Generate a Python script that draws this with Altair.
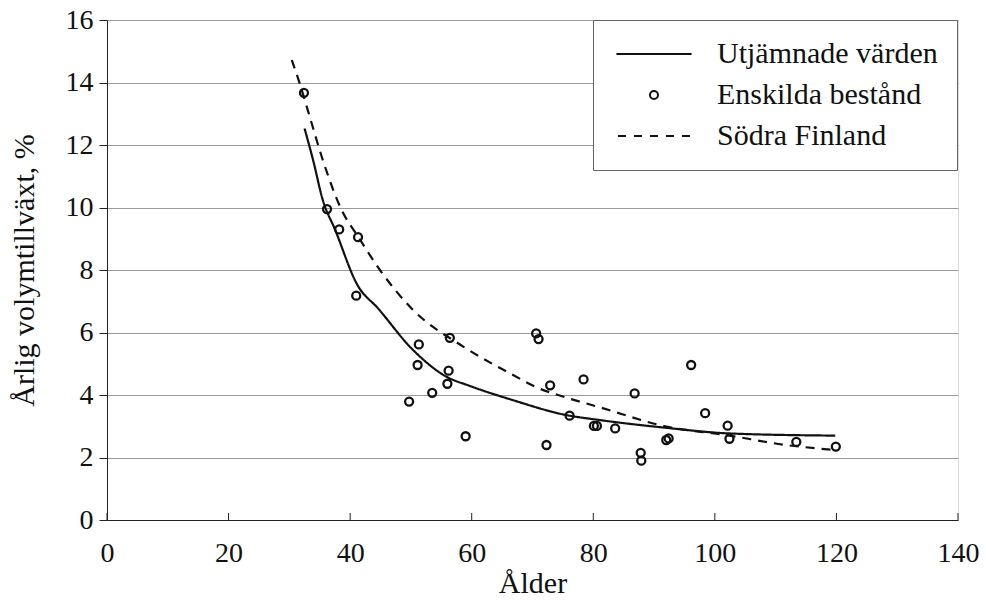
import altair as alt
import pandas as pd

# --- data ---
series = ["Utjämnade värden", "Enskilda bestånd", "Södra Finland"]

ages = [32.4, 36.2, 38.2, 41.3, 41.0, 49.7, 51.1, 51.3, 53.5, 56.0,
        56.2, 56.4, 59.0, 70.6, 71.0, 72.3, 72.9, 76.1, 78.4, 80.1,
        80.6, 83.6, 86.8, 87.8, 87.9, 92.0, 92.4, 96.1, 98.4, 102.1,
        102.4, 113.4, 119.9]
growth = [13.67, 9.95, 9.30, 9.05, 7.18, 3.79, 4.96, 5.62, 4.07, 4.36,
          4.78, 5.83, 2.68, 5.97, 5.79, 2.40, 4.31, 3.34, 4.50, 3.01,
          3.01, 2.93, 4.05, 2.15, 1.90, 2.56, 2.61, 4.96, 3.42, 3.02,
          2.60, 2.50, 2.35]

smooth_age = [32.5, 33.9, 35.5, 37.5, 41.2, 44.6, 50.1, 55.8, 59.7, 66.7,
              75.5, 81.0, 92.0, 102.4, 119.8]
smooth_val = [12.53, 11.52, 10.24, 9.30, 7.52, 6.77, 5.49, 4.59, 4.29, 3.84,
              3.36, 3.20, 2.95, 2.77, 2.70]

finland_age = [30.4, 31.7, 33.1, 35.5, 38.6, 41.3, 44.9, 50.1, 58.6, 66.8,
               70.6, 75.0, 81.0, 92.0, 101.8, 111.7, 119.8]
finland_val = [14.72, 13.97, 13.07, 11.52, 9.92, 9.07, 8.00, 6.77, 5.55, 4.64,
               4.25, 3.95, 3.61, 2.99, 2.72, 2.40, 2.24]

x_ticks = [0, 20, 40, 60, 80, 100, 120, 140]
y_ticks = [0, 2, 4, 6, 8, 10, 12, 14, 16]

# --- tables ---
pts = pd.DataFrame({"age": ages, "val": growth, "serie": series[1]})
lines = pd.concat([
    pd.DataFrame({"age": smooth_age, "val": smooth_val, "serie": series[0]}),
    pd.DataFrame({"age": finland_age, "val": finland_val, "serie": series[2]}),
])
ticks_df = pd.DataFrame({"t": x_ticks})

FONT = "Liberation Serif"
INK = "#111111"
W, H = 851, 500

xscale = alt.Scale(domain=[0, 140], nice=False, zero=False)
yscale = alt.Scale(domain=[0, 16], nice=False, zero=False)

solid_path = "M-9.4,0L9.4,0"
dash_path = "M-9,0L-7,0M-5,0L-3,0M-1,0L1,0M3,0L5,0M7,0L9,0"

x_axis = alt.Axis(values=x_ticks, ticks=False, grid=False, labelFlush=False,
                  labelPadding=19, labelFontSize=28, labelFont=FONT,
                  labelColor=INK, domainColor="#222", title="Ålder",
                  titleFont=FONT, titleFontSize=30, titleFontWeight="normal",
                  titleColor=INK, titleBaseline="alphabetic", titleY=72)
y_axis = alt.Axis(values=y_ticks, tickSize=8, tickColor="#222", labelPadding=6,
                  labelFlush=False, labelFontSize=28, labelFont=FONT,
                  labelColor=INK, domainColor="#222", grid=True,
                  gridColor="#9a9a9a", gridWidth=1,
                  title="Årlig volymtillväxt, %", titleFont=FONT,
                  titleFontSize=30, titleFontWeight="normal", titleColor=INK,
                  titleX=-83, titleY=250, titleBaseline="middle",
                  titleAlign="center", titleAngle=270)

base_x = alt.X("age:Q", scale=xscale, axis=x_axis)
base_y = alt.Y("val:Q", scale=yscale, axis=y_axis)

line_layer = alt.Chart(lines).mark_line(color=INK, strokeWidth=2.2,
                                         interpolate="monotone").encode(
    x=base_x,
    y=base_y,
    detail="serie:N",
    strokeDash=alt.StrokeDash("serie:N",
                              scale=alt.Scale(domain=[series[0], series[2]],
                                              range=[[1, 0], [9, 7]]),
                              legend=None),
)

point_layer = alt.Chart(pts).mark_point(filled=False, color=INK,
                                         strokeWidth=2.3, size=64, opacity=1).encode(
    x=alt.X("age:Q", scale=xscale),
    y=alt.Y("val:Q", scale=yscale),
    shape=alt.Shape("serie:N",
                    scale=alt.Scale(domain=series,
                                    range=[solid_path, "circle", dash_path]),
                    legend=alt.Legend(title=None, orient="none",
                                      legendX=486, legendY=0,
                                      padding=19, fillColor="white",
                                      strokeColor="#666",
                                      symbolSize=64, symbolStrokeWidth=2,
                                      symbolStrokeColor=INK,
                                      symbolFillColor="transparent",
                                      symbolOffset=27, labelOffset=48,
                                      rowPadding=11, labelFont=FONT,
                                      labelFontSize=30, labelColor=INK,
                                      labelLimit=500)),
)

tick_layer = alt.Chart(ticks_df).mark_rule(color="#222", strokeWidth=1).encode(
    x=alt.X("t:Q", scale=xscale),
    y=alt.value(H),
    y2=alt.value(H - 7),
)

chart = alt.layer(line_layer, point_layer, tick_layer).properties(
    width=W, height=H,
    autosize=alt.AutoSizeParams(type="none"),
    padding={"left": 107, "top": 20, "right": 28, "bottom": 81},
    background="white",
).configure_view(stroke="#333", strokeWidth=1).configure(font=FONT)

chart.save("out.html", embed_options={"renderer": "svg", "actions": False})
